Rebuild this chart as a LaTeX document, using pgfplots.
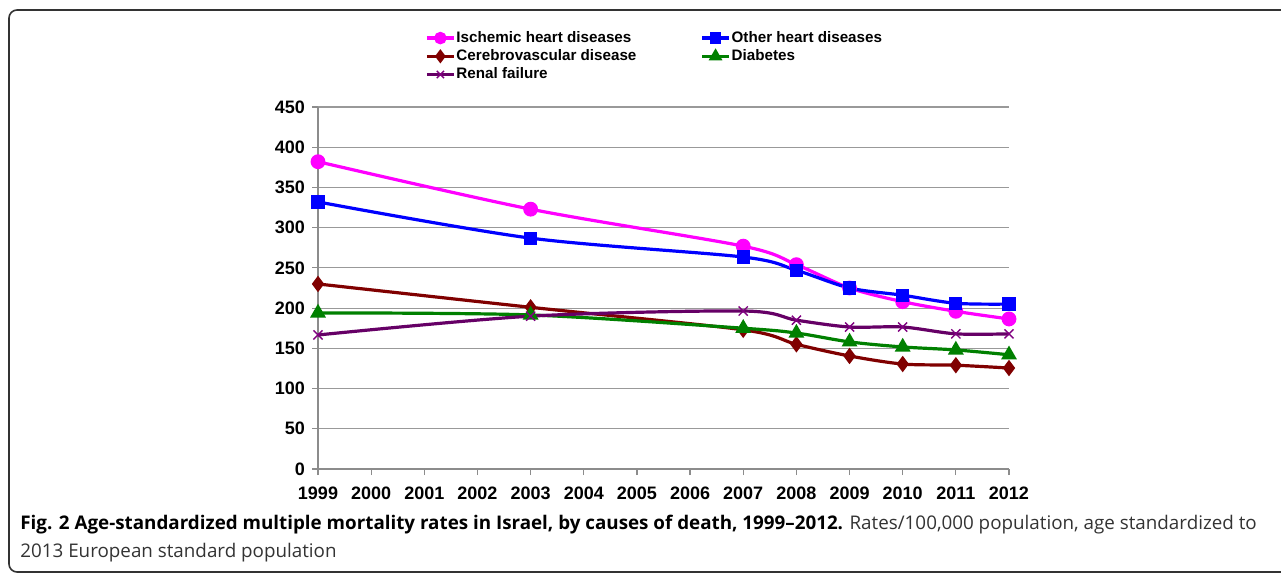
\documentclass[border=0pt]{standalone}
\usepackage{fontspec}
\setmainfont{Liberation Sans}
\newfontfamily\capfont[Ligatures=TeX]{Open Sans}
\usepackage{pgfplots}
\pgfplotsset{compat=1.18}
\definecolor{ihd}{HTML}{FF00FF}
\definecolor{ohd}{HTML}{0000FF}
\definecolor{cvd}{HTML}{800000}
\definecolor{dia}{HTML}{008000}
\definecolor{ren}{HTML}{660066}
\definecolor{renm}{HTML}{800080}
\begin{document}
\begin{tikzpicture}
\path[use as bounding box] (0,0) rectangle (640.5pt,287pt);
\draw[line width=0.8pt, color=black!80, rounded corners=4pt] (640.5pt,282pt) -- (4.5pt,282pt) -- (4.5pt,1pt) -- (640.5pt,1pt);
\begin{axis}[
  scale only axis, width=345.5pt, height=181pt,
  at={(159pt,52.5pt)}, anchor=south west,
  xmin=1999, xmax=2012, ymin=0, ymax=450,
  xtick={1999,2000,...,2012}, ytick={0,50,...,450},
  ymajorgrids, grid style={color=black!40, line width=0.6pt},
  axis lines*=left, axis line style={black!45, line width=0.6pt},
  tick style={black!45, line width=0.6pt}, tick align=outside, major tick length=3pt,
  ticklabel style={font=\bfseries\fontsize{9}{10}\selectfont},
  xticklabel style={yshift=-2.5pt},
  /pgf/number format/assume math mode=true,
  /pgf/number format/1000 sep={},
  clip=false,
  legend columns=2,
  legend cell align=left,
  legend style={at={(0.146,1.226)}, anchor=north west, draw=none, fill=none,
    font=\bfseries\fontsize{7.6}{9}\selectfont,
    nodes={inner sep=0.5pt, text height=6pt, text depth=1.5pt},
    row sep=0.6pt,
    /tikz/every even column/.append style={column sep=31.5pt}},
  legend image code/.code={\draw[mark repeat=2,mark phase=2,#1,every mark/.append style={scale=0.8}] plot coordinates {(0pt,0pt) (6.75pt,0pt) (13.5pt,0pt)};},
]
\addplot[ihd, line width=1.6pt, smooth, tension=0.5, mark=*, mark size=2.9pt, mark options={solid}] coordinates {
(1999,382) (2003,323) (2007,277) (2008,254) (2009,225) (2010,208) (2011,196) (2012,186.5)};
\addlegendentry{Ischemic heart diseases}
\addplot[ohd, line width=1.6pt, smooth, tension=0.5, mark=square*, mark size=2.5pt, mark options={solid}] coordinates {
(1999,332) (2003,287) (2007,263.5) (2008,247) (2009,225) (2010,216) (2011,206) (2012,205)};
\addlegendentry{Other heart diseases}
\addplot[cvd, line width=1.6pt, smooth, tension=0.5, mark=diamond*, mark size=2.8pt, mark options={solid}] coordinates {
(1999,230) (2003,201) (2007,173) (2008,155) (2009,140.5) (2010,130.5) (2011,129) (2012,125.5)};
\addlegendentry{Cerebrovascular disease}
\addplot[dia, line width=1.6pt, smooth, tension=0.5, mark=triangle*, mark size=3pt, mark options={solid}] coordinates {
(1999,194) (2003,191.5) (2007,175) (2008,169) (2009,158) (2010,151.7) (2011,148) (2012,142)};
\addlegendentry{Diabetes}
\addplot[ren, line width=1.6pt, smooth, tension=0.5, mark=x, mark size=3.2pt, mark options={solid, renm, line width=0.7pt}] coordinates {
(1999,166.6) (2003,190) (2007,196.4) (2008,185) (2009,176.5) (2010,176.5) (2011,168) (2012,168)};
\addlegendentry{Renal failure}
\end{axis}
\node[anchor=base west, inner sep=0, font=\capfont\fontsize{9.4}{14}\selectfont] at (10pt,22.5pt) {\textbf{Fig. 2 Age-standardized multiple mortality rates in Israel, by causes of death, 1999–2012.} \textcolor{black!80}{Rates/100,000 population, age standardized to}};
\node[anchor=base west, inner sep=0, font=\capfont\fontsize{9.4}{14}\selectfont, text=black!80] at (10pt,8.5pt) {2013 European standard population};
\end{tikzpicture}
\end{document}
